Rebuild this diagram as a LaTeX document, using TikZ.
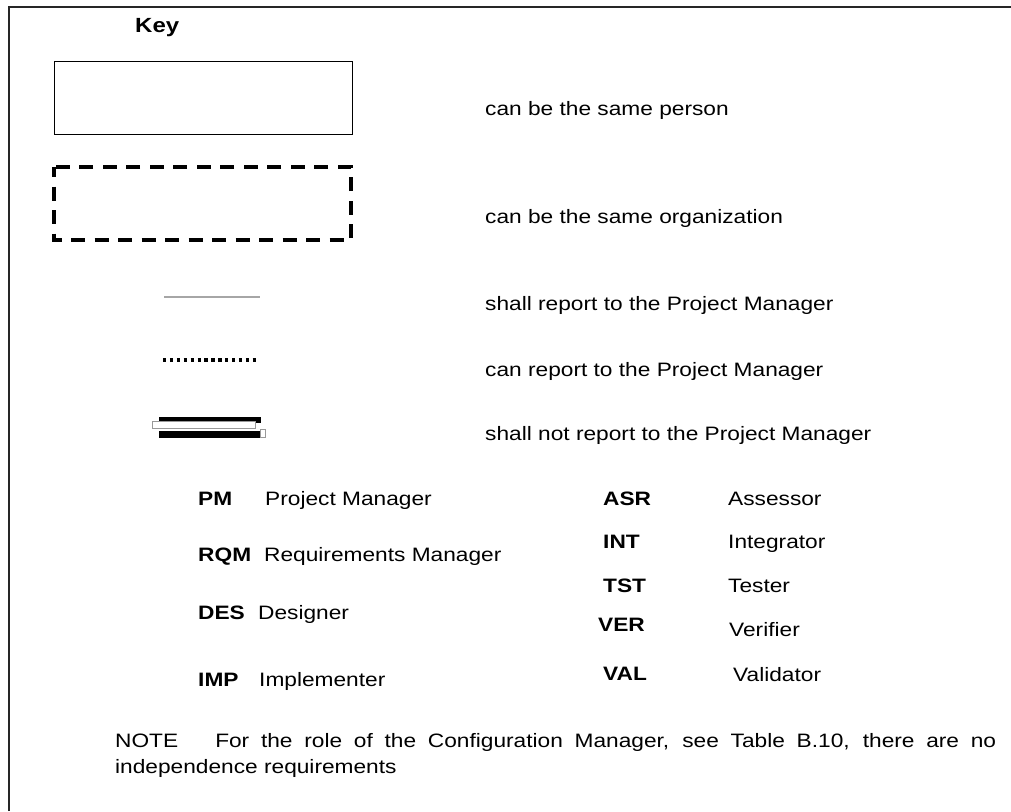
\documentclass[tikz,border=0pt]{standalone}
\usepackage{fontspec}
\setmainfont{Liberation Sans}[FakeStretch=1.17]
\begin{document}
\begin{tikzpicture}[x=1pt,y=-1pt,
  txt/.style={anchor=base west,inner sep=0pt,font=\fontsize{19.4}{23}\selectfont},
  abbr/.style={txt,font=\fontsize{19.4}{23}\selectfont\bfseries},
  frameline/.style={line width=1.4pt,black!85}]
\useasboundingbox (0,0) rectangle (1011,811);
% outer frame (left and top edges)
\draw[frameline] (9,811) -- (9,7) -- (1011,7);
% heading
\node[txt,font=\fontsize{20.5}{24}\selectfont\bfseries] (key) at (135,32) {Key};
% same person: plain box
\draw[line width=0.9pt] (54,61) rectangle (352,134);
\node[txt] (person) at (485,115) {can be the same person};
% same organization: heavy dashed box
\draw[line width=4pt,dash pattern=on 14pt off 9.5pt,dash phase=4pt] (54,167) rectangle (351,240);
\node[txt] (org) at (485,223) {can be the same organization};
% shall report: thin grey line
\draw[gray!70,line width=1.2pt] (164,297) -- (260,297);
\node[txt] (shall) at (485,310) {shall report to the Project Manager};
% can report: dotted line
\draw[line width=3.2pt,dash pattern=on 3.3pt off 3.6pt] (163,360) -- (258,360);
\node[txt] (can) at (485,376) {can report to the Project Manager};
% shall not report: double heavy bar
\fill[black] (159,416.5) rectangle (261,423);
\fill[black] (159,430.5) rectangle (261,437.5);
\draw[gray!80,line width=0.9pt,fill=white] (152,421.5) rectangle (255,428.5);
\draw[gray!80,line width=0.9pt] (260,429.5) rectangle (265,437.5);
\node[txt] (shallnot) at (485,440) {shall not report to the Project Manager};
% abbreviations, left column
\node[abbr] (pm) at (198,505) {PM};
\node[txt] (pmt) at (265,505) {Project Manager};
\node[abbr] (rqm) at (198,561) {RQM};
\node[txt] (rqmt) at (264,561) {Requirements Manager};
\node[abbr] (des) at (198,619) {DES};
\node[txt] (dest) at (258,619) {Designer};
\node[abbr] (imp) at (198,686) {IMP};
\node[txt] (impt) at (259,686) {Implementer};
% abbreviations, right column
\node[abbr] (asr) at (603,505) {ASR};
\node[txt] (asrt) at (728,505) {Assessor};
\node[abbr] (int) at (603,548) {INT};
\node[txt] (intt) at (728,548) {Integrator};
\node[abbr] (tst) at (603,592) {TST};
\node[txt] (tstt) at (728,592) {Tester};
\node[abbr] (ver) at (598,631) {VER};
\node[txt] (vert) at (729,636) {Verifier};
\node[abbr] (val) at (603,680) {VAL};
\node[txt] (valt) at (733,681) {Validator};
% note
\node[txt] (note1) at (115,747) {\makebox[881pt][s]{NOTE\hspace{37pt}For the role of the Configuration Manager, see Table B.10, there are no}};
\node[txt] (note2) at (115,773) {independence requirements};
\end{tikzpicture}
\end{document}
